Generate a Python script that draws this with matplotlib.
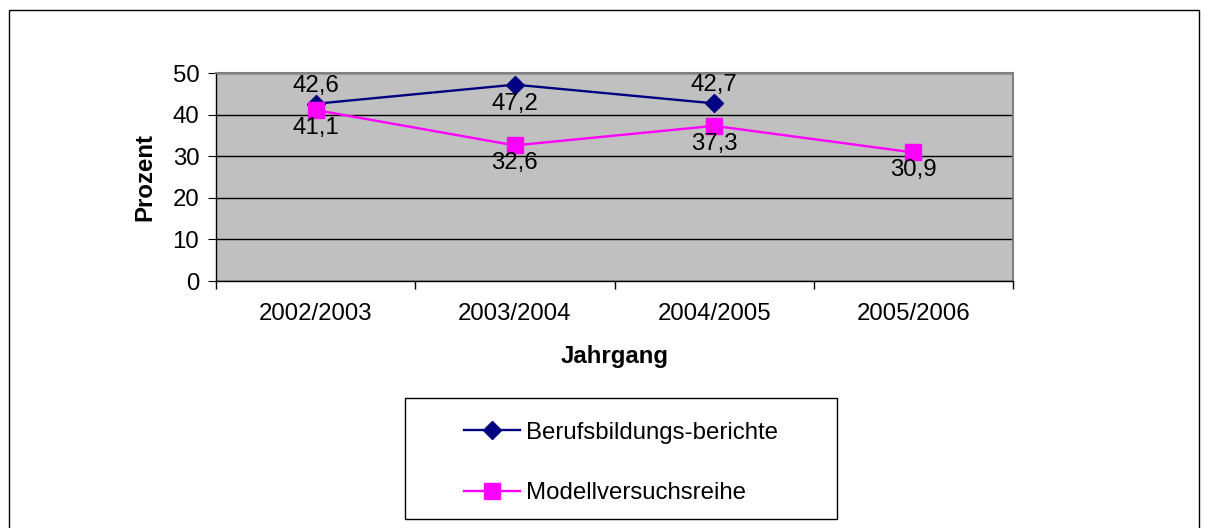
import matplotlib.pyplot as plt
from matplotlib.patches import Rectangle

plt.rcParams['font.family'] = ['Liberation Sans', 'DejaVu Sans']
FS = 17.3

jahrgang = ['2002/2003', '2003/2004', '2004/2005', '2005/2006']
berufsbildung = [42.6, 47.2, 42.7]
modellversuch = [41.1, 32.6, 37.3, 30.9]

fig = plt.figure(figsize=(12.08, 5.28), dpi=100)
ax = fig.add_axes([216 / 1208, 1 - 281 / 528, 797 / 1208, 208 / 528])
ax.set_facecolor('#C0C0C0')

# outer chart border
fig.patches.append(Rectangle((9 / 1208, -0.05), 1190 / 1208, 1 - 10 / 528 + 0.05,
                             transform=fig.transFigure, fill=False,
                             edgecolor='black', linewidth=1))

x_b = list(range(len(berufsbildung)))
x_m = list(range(len(modellversuch)))
ax.plot(x_b, berufsbildung, color='#000080', marker='D', markersize=9,
        linewidth=1.7, label='Berufsbildungs-berichte', zorder=3)
ax.plot(x_m, modellversuch, color='#FF00FF', marker='s', markersize=11,
        linewidth=1.7, label='Modellversuchsreihe', zorder=3)

# labels above; moved below when they would leave the plot area
for x, v in zip(x_b, berufsbildung):
    txt = f'{v:.1f}'.replace('.', ',')
    if v > 45:
        ax.annotate(txt, (x, v), xytext=(0, -6), textcoords='offset points',
                    ha='center', va='top', fontsize=FS)
    else:
        ax.annotate(txt, (x, v), xytext=(0, 5), textcoords='offset points',
                    ha='center', va='bottom', fontsize=FS)
for x, v in zip(x_m, modellversuch):
    ax.annotate(f'{v:.1f}'.replace('.', ','), (x, v), xytext=(0, -5),
                textcoords='offset points', ha='center', va='top', fontsize=FS)

ax.set_xlim(-0.5, 3.5)
ax.set_ylim(0, 50)
ax.set_yticks([0, 10, 20, 30, 40, 50])
ax.yaxis.grid(True, color='black', linewidth=1)
ax.set_axisbelow(True)

ax.set_xticks([0, 1, 2, 3])
ax.set_xticklabels(jahrgang, fontsize=FS)
ax.set_xticks([-0.5, 0.5, 1.5, 2.5, 3.5], minor=True)
ax.tick_params(axis='x', which='major', length=0, pad=16)
ax.tick_params(axis='x', which='minor', length=6, color='black', width=1)
ax.tick_params(axis='y', length=6, labelsize=FS, pad=6)

for s in ['top', 'right']:
    ax.spines[s].set_color('#808080')
    ax.spines[s].set_linewidth(1.5)
for s in ['left', 'bottom']:
    ax.spines[s].set_color('black')
    ax.spines[s].set_linewidth(1)

ax.set_xlabel('Jahrgang', fontsize=FS, fontweight='bold', labelpad=14)
ax.set_ylabel('Prozent', fontsize=FS, fontweight='bold', labelpad=12)

leg = fig.legend(loc='center', bbox_to_anchor=(621 / 1208, 1 - 463 / 528),
                 fontsize=FS, frameon=False,
                 labelspacing=1.6, handlelength=2.3, handletextpad=0.25,
                 borderaxespad=0)
leg._legend_box.align = 'left'
fig.patches.append(Rectangle((405 / 1208, 1 - 519 / 528), 432 / 1208, 121 / 528,
                             transform=fig.transFigure, fill=False,
                             edgecolor='black', linewidth=1))

fig.savefig('out.png', dpi=100)
